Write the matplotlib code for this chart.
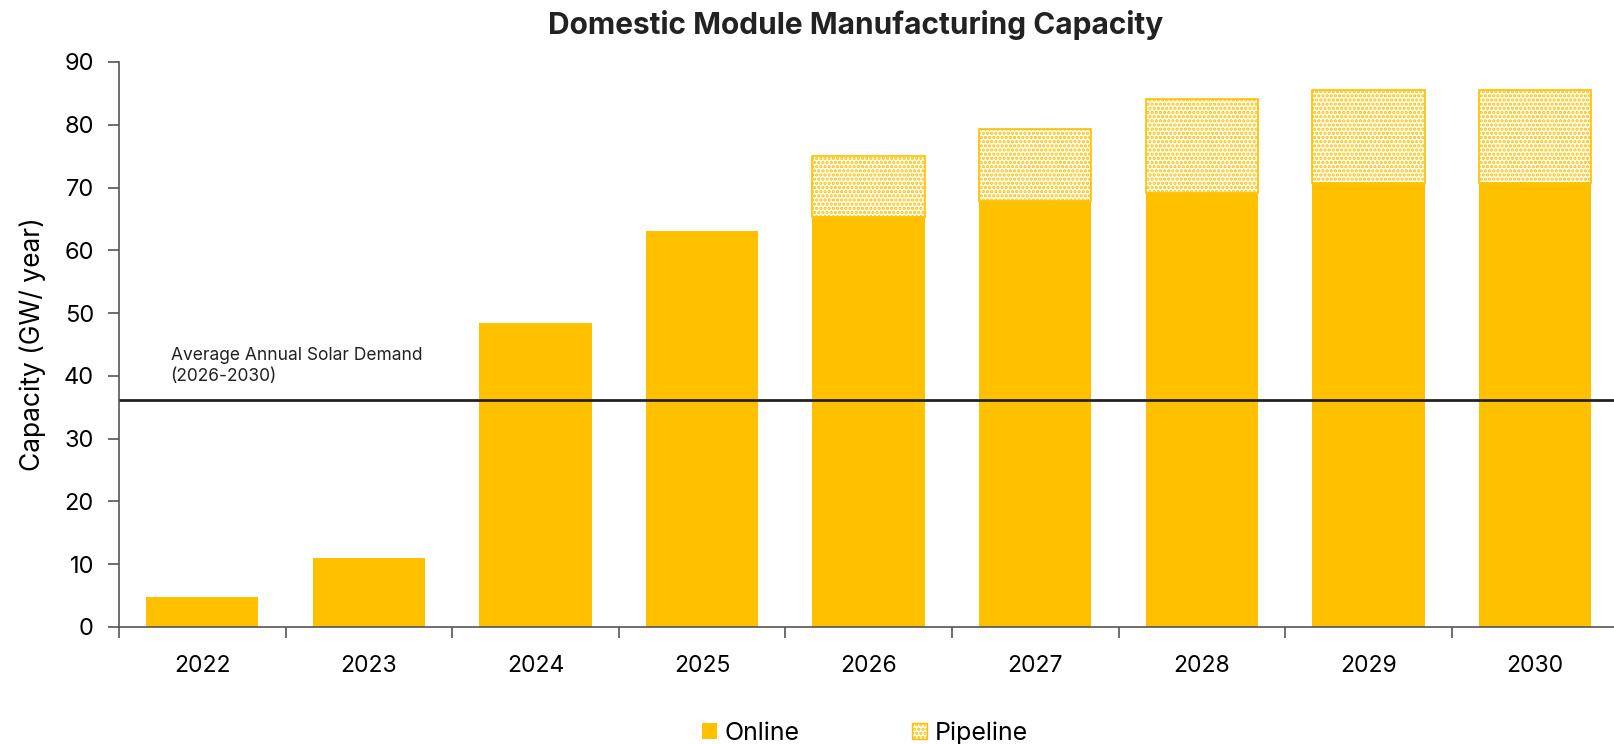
import numpy as np
import matplotlib
matplotlib.use("Agg")
import matplotlib.pyplot as plt
from matplotlib.patches import Patch

# values
years = ["2022", "2023", "2024", "2025", "2026", "2027", "2028", "2029", "2030"]
online = [4.7, 11.0, 48.5, 63.1, 65.3, 67.9, 69.2, 70.7, 70.7]
pipeline = [0, 0, 0, 0, 9.8, 11.4, 14.9, 14.9, 14.9]
demand = 36.2

gold = "#FFC000"
axis_gray = "#555555"

plt.rcParams["font.family"] = ["Inter", "DejaVu Sans"]
plt.rcParams["hatch.color"] = gold
plt.rcParams["hatch.linewidth"] = 1.6

fig = plt.figure(figsize=(16.14, 7.44), dpi=100)
ax = fig.add_axes([0.0737, 0.1573, 0.929, 0.7594])

x = np.arange(len(years))
ax.bar(x, online, width=0.675, color=gold, edgecolor="none")
for xi, base, extra in zip(x, online, pipeline):
    if extra > 0:
        ax.bar(xi, extra, bottom=base, width=0.675, facecolor="white",
               edgecolor=gold, hatch="....", linewidth=1.2)

ax.axhline(demand, color="#222222", linewidth=2)
ax.text(-0.19, demand + 2.4, "Average Annual Solar Demand\n(2026-2030)",
        fontsize=12.5, color="#222222", ha="left", va="bottom", linespacing=1.25)

ax.set_xlim(-0.5, len(years) - 0.5)
ax.set_ylim(0, 90)
ax.set_yticks(range(0, 91, 10))
ax.set_xticks(x)
ax.set_xticklabels(years)
ax.set_xticks(np.arange(-0.5, len(years), 1.0), minor=True)
ax.tick_params(axis="x", which="major", length=0, pad=20, labelsize=16.5)
ax.tick_params(axis="x", which="minor", length=8, color=axis_gray, width=1.2)
ax.tick_params(axis="y", length=8, color=axis_gray, width=1.2, labelsize=17, pad=10)

for side in ["top", "right"]:
    ax.spines[side].set_visible(False)
for side in ["left", "bottom"]:
    ax.spines[side].set_color(axis_gray)
    ax.spines[side].set_linewidth(1.2)

ax.set_ylabel("Capacity (GW/ year)", fontsize=19, labelpad=13)

fig.text(0.530, 0.966, "Domestic Module Manufacturing Capacity",
         fontsize=21.5, fontweight="bold", ha="center", va="center", color="#222222")

handles = [Patch(facecolor=gold, edgecolor="none", label="Online"),
           Patch(facecolor="white", edgecolor=gold, hatch="....", label="Pipeline")]
fig.legend(handles=handles, loc="center", bbox_to_anchor=(0.536, 0.015), ncol=2,
           frameon=False, fontsize=18, handlelength=0.6, handleheight=0.6,
           handletextpad=0.3, columnspacing=4.5)

fig.savefig("out.png", dpi=100)
